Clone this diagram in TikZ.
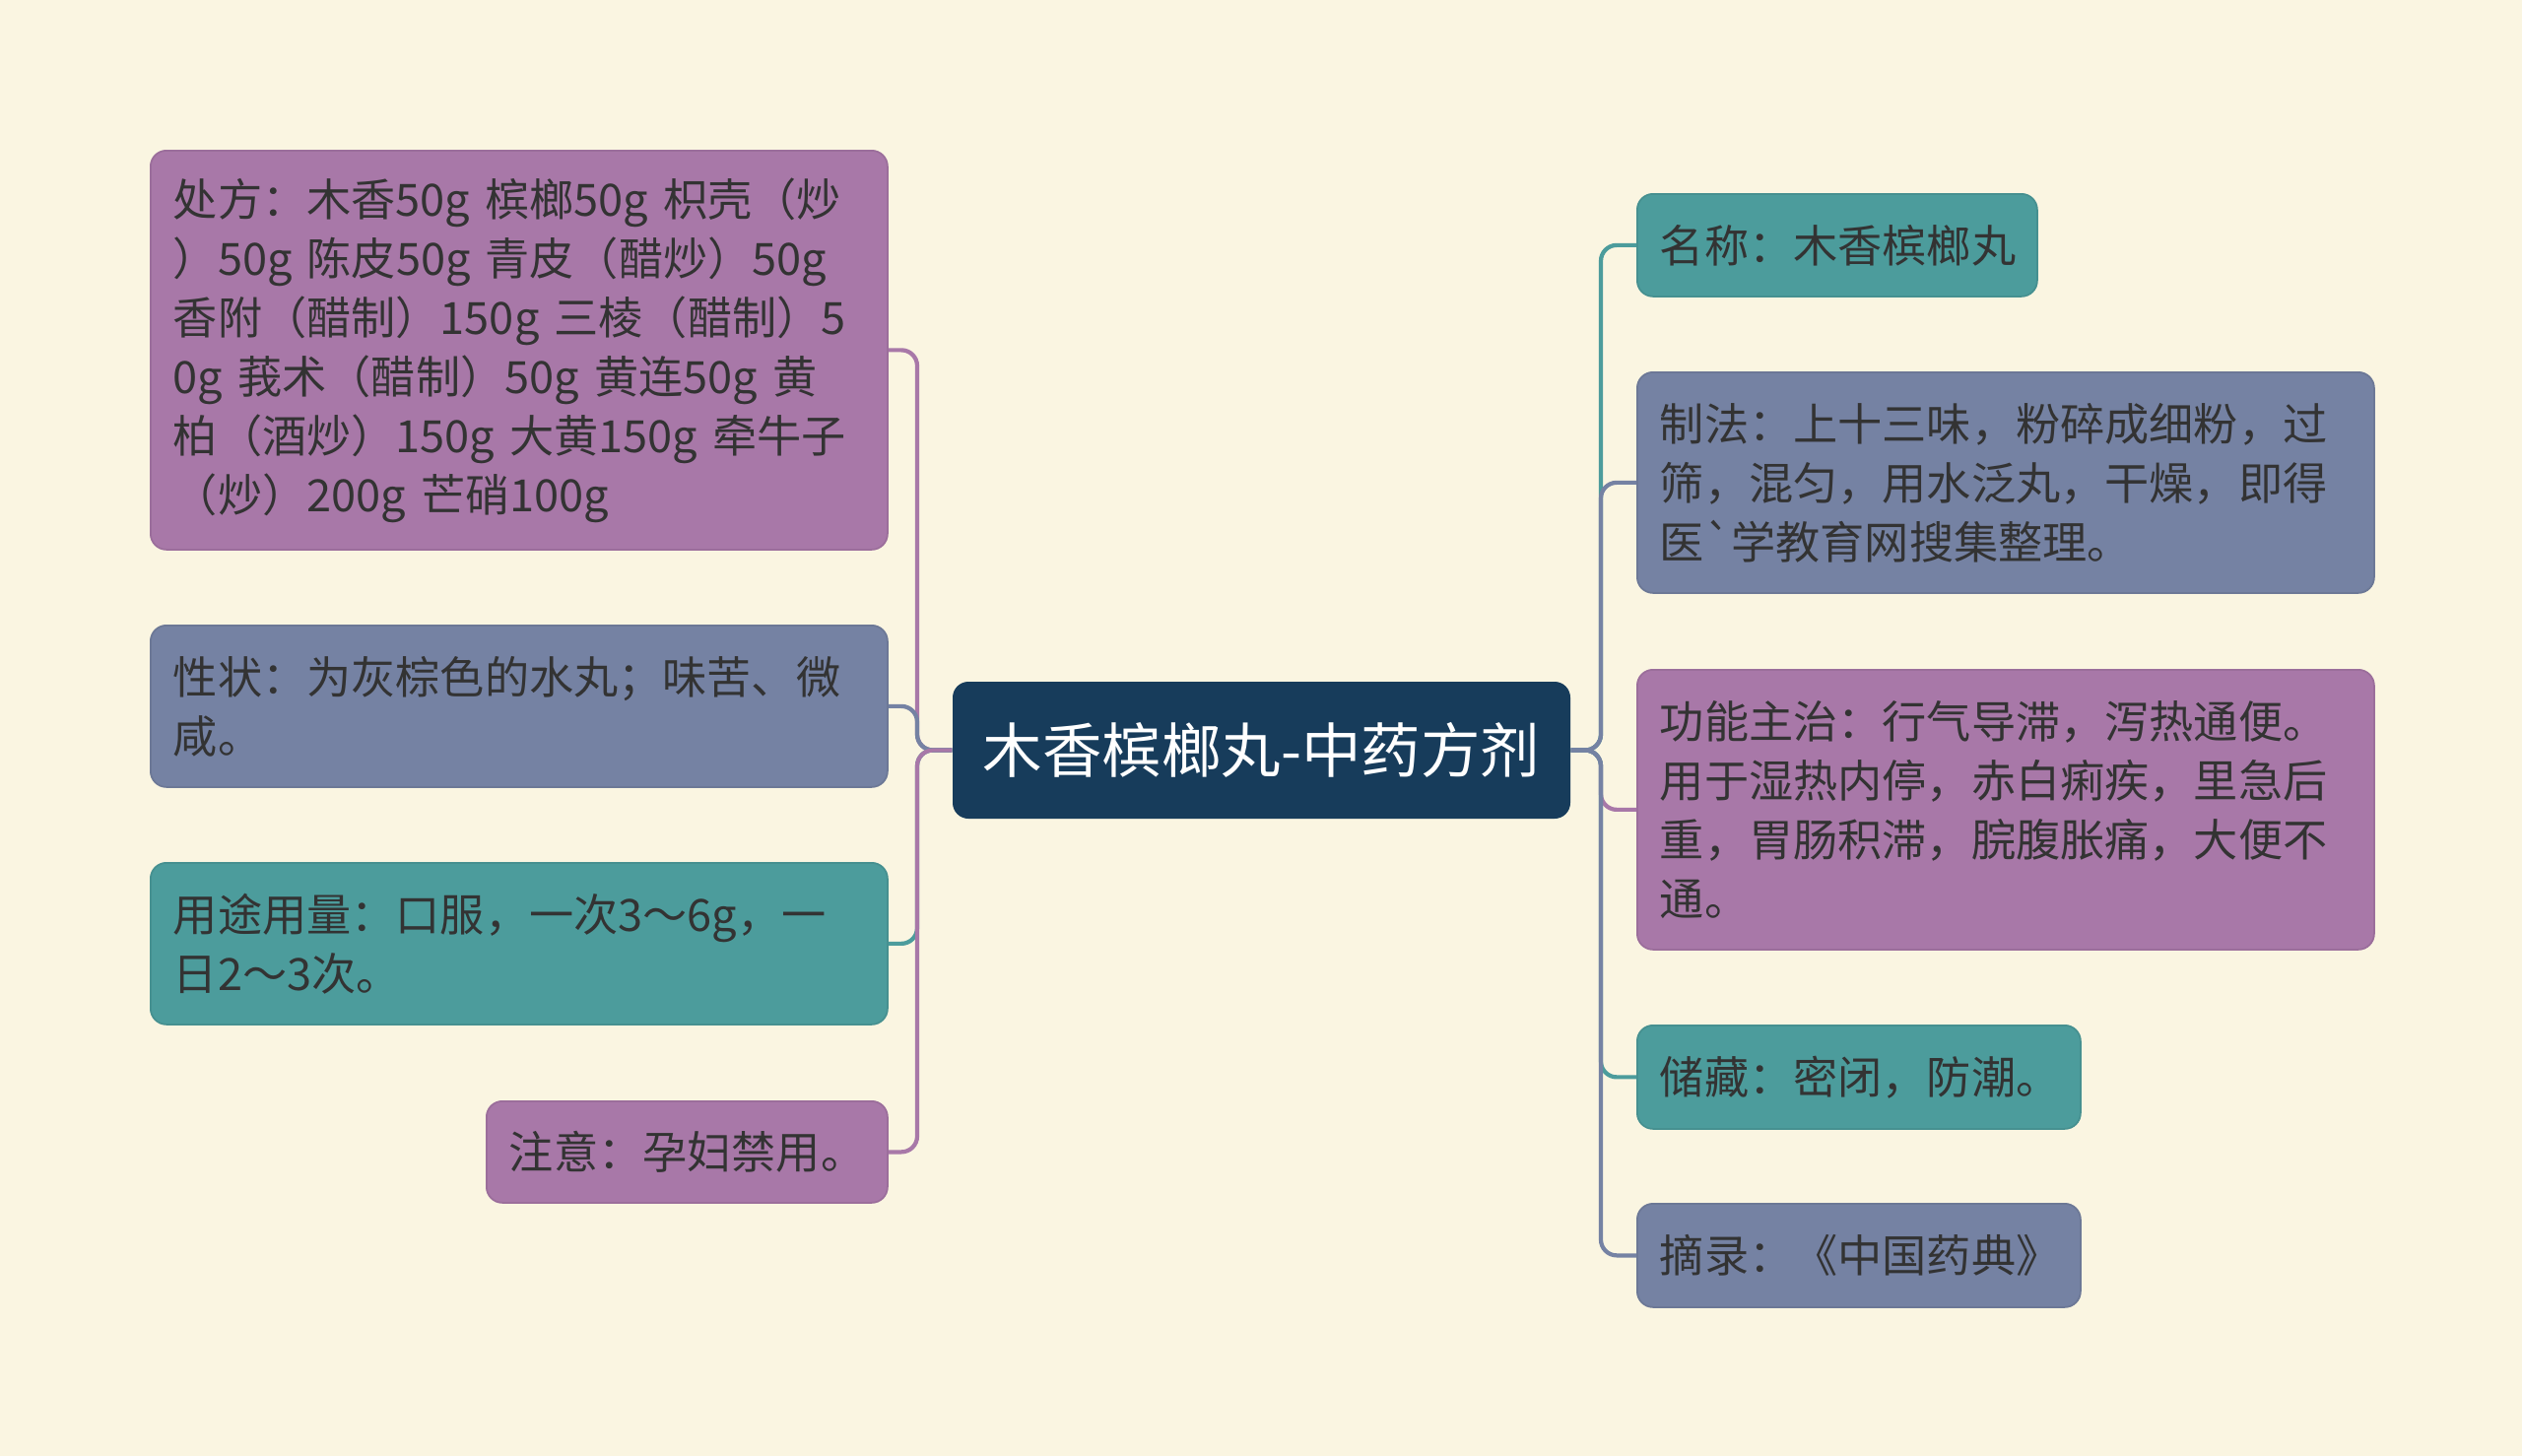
\documentclass[tikz,border=0pt]{standalone}
\usepackage{fontspec}
\setmainfont[Ligatures=TeXOff]{Noto Sans CJK SC}
\usepackage{tikz}
\usetikzlibrary{positioning}
\definecolor{bgcream}{HTML}{FAF5E1}
\definecolor{herbpurple}{HTML}{A878A8}
\definecolor{herbslate}{HTML}{7582A3}
\definecolor{herbteal}{HTML}{4C9C9C}
\definecolor{herbnavy}{HTML}{173C5B}
\definecolor{inkgray}{HTML}{333333}
\begin{document}
\begin{tikzpicture}[
  card/.style={fill=#1, draw=#1!92!black, line width=0.5pt, rounded corners=0.16cm,
    anchor=north west, inner xsep=0.23cm, inner ysep=0cm, align=left, text=inkgray,
    font=\fontsize{12.85pt}{17.07pt}\selectfont},
  link/.style={line width=1.2pt, rounded corners=0.16cm}
]
\fill[bgcream] (0,0) rectangle (25.6,-14.78);
\useasboundingbox (0,0) rectangle (25.6,-14.78);
\node[fill=herbnavy, rounded corners=0.16cm, minimum width=6.27cm, minimum height=1.39cm,
  text=white, font=\fontsize{17.2pt}{20pt}\selectfont] (main) at (12.805,-7.615) {木香槟榔丸-中药方剂};
\coordinate (lhub) at (9.31,-7.615);
\coordinate (rhub) at (16.25,-7.615);
% left side
\node[card=herbpurple, text width=7.02cm, minimum height=4.05cm] (p1) at (1.52,-1.52)
  {处方：木香50g 槟榔50g 枳壳（炒\\）50g 陈皮50g 青皮（醋炒）50g\\香附（醋制）150g 三棱（醋制）5\\0g 莪术（醋制）50g 黄连50g 黄\\柏（酒炒）150g 大黄150g 牵牛子\\（炒）200g 芒硝100g};
\node[card=herbslate, text width=7.02cm, minimum height=1.64cm] (p2) at (1.52,-6.34)
  {性状：为灰棕色的水丸；味苦、微\\咸。};
\node[card=herbteal, text width=7.02cm, minimum height=1.64cm] (p3) at (1.52,-8.75)
  {用途用量：口服，一次3～6g，一\\日2～3次。};
\node[card=herbpurple, text width=3.61cm, minimum height=1.03cm] (p4) at (4.93,-11.17)
  {注意：孕妇禁用。};
% right side
\node[card=herbteal, text width=3.60cm, minimum height=1.04cm] (q1) at (16.61,-1.96)
  {名称：木香槟榔丸};
\node[card=herbslate, text width=7.02cm, minimum height=2.24cm] (q2) at (16.61,-3.77)
  {制法：上十三味，粉碎成细粉，过\\筛，混匀，用水泛丸，干燥，即得\\医`学教育网搜集整理。};
\node[card=herbpurple, text width=7.02cm, minimum height=2.84cm] (q3) at (16.61,-6.79)
  {功能主治：行气导滞，泻热通便。\\用于湿热内停，赤白痢疾，里急后\\重，胃肠积滞，脘腹胀痛，大便不\\通。};
\node[card=herbteal, text width=4.04cm, minimum height=1.05cm] (q4) at (16.61,-10.40)
  {储藏：密闭，防潮。};
\node[card=herbslate, text width=4.04cm, minimum height=1.05cm] (q5) at (16.61,-12.21)
  {摘录：《中国药典》};
% connectors
\draw[link, herbpurple] (main.west) -- (lhub) |- (p1.east);
\draw[link, herbslate] (main.west) -- (lhub) |- (p2.east);
\draw[link, herbteal] (main.west) -- (lhub) |- (p3.east);
\draw[link, herbpurple] (main.west) -- (lhub) |- (p4.east);
\draw[link, herbteal] (main.east) -- (rhub) |- (q1.west);
\draw[link, herbpurple] (main.east) -- (rhub) |- (q3.west);
\draw[link, herbteal] (main.east) -- (rhub) |- (q4.west);
\draw[link, herbslate] (main.east) -- (rhub) |- (q2.west);
\draw[link, herbslate] (main.east) -- (rhub) |- (q5.west);
\end{tikzpicture}
\end{document}
